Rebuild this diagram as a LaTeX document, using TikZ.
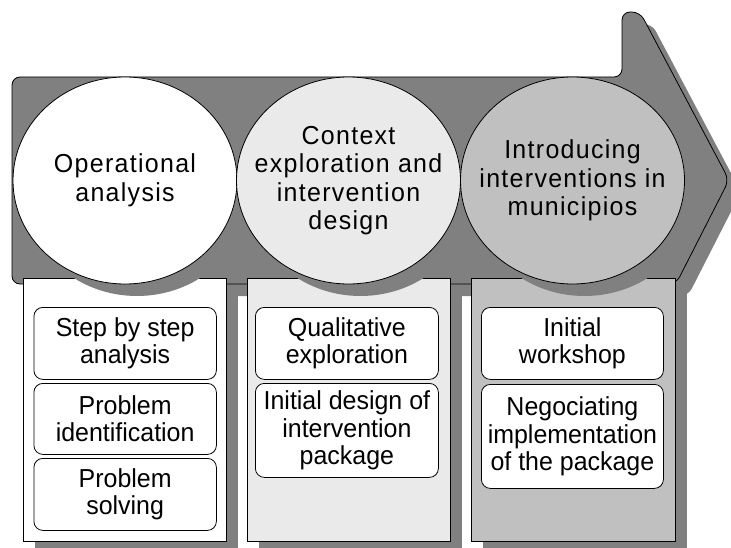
\documentclass[tikz,border=0pt]{standalone}
\usepackage{fontspec}
\setmainfont{Liberation Sans}[FakeStretch=0.96]
\newfontfamily\circfont[LetterSpace=5,FakeStretch=0.96]{Liberation Sans}
\usetikzlibrary{shapes.geometric,shadows}
\definecolor{arrowgray}{HTML}{808080}
\definecolor{lightfill}{HTML}{EAEAEA}
\definecolor{midfill}{HTML}{C0C0C0}
\begin{document}
\begin{tikzpicture}[x=1pt,y=-1pt,
  outl/.style={draw=black, line width=0.8pt},
  shad/.style={drop shadow={shadow xshift=12pt, shadow yshift=-12pt, opacity=1, fill=arrowgray}},
  phase/.style={ellipse, outl, shad, minimum width=224pt, minimum height=207pt, inner sep=0pt},
  phasetext/.style={align=center, inner sep=0pt, font=\circfont\fontsize{26}{28.5}\selectfont},
  panel/.style={rectangle, outl, shad, minimum height=263pt, inner sep=0pt, anchor=north west},
  task/.style={rectangle, rounded corners=9pt, outl, fill=white, align=center,
    font=\fontsize{26}{27.5}\selectfont, inner sep=0pt, anchor=north west}]
\clip (0,0) rectangle (731,548);
% arrow shadow and arrow
\fill[arrowgray, shift={(12,12)}, rounded corners=8]
  (12,284) -- (12,77) -- (622,77) -- (622,12) -- (640,12) -- (729,180) -- (676,284) -- cycle;
\filldraw[fill=arrowgray, draw=black, line width=0.8pt, rounded corners=8]
  (12,284) -- (12,77) -- (622,77) -- (622,12) -- (640,12) -- (729,180) -- (676,284) -- cycle;
% panels
\node[panel, fill=white, minimum width=203pt] (p1) at (23,278) {};
\node[panel, fill=lightfill, minimum width=203pt] (p2) at (247,278) {};
\node[panel, fill=midfill, minimum width=204pt] (p3) at (471,278) {};
% phase ellipses
\node[phase, fill=white] (e1) at (125,180.5) {};
\node[phase, fill=lightfill] (e2) at (348.5,180.5) {};
\node[phase, fill=midfill] (e3) at (572.5,180.5) {};
\node[phasetext] (e1t) at (e1.center) {Operational\\analysis};
\node[phasetext] (e2t) at (e2.center) {Context\\exploration and\\intervention\\design};
\node[phasetext] (e3t) at (e3.center) {Introducing\\interventions in\\municipios};
% task boxes
\node[task, minimum width=182.5pt, minimum height=72pt] (b11) at (33.5,307) {Step by step\\analysis};
\node[task, minimum width=182.5pt, minimum height=71pt] (b12) at (33.5,383) {Problem\\identification};
\node[task, minimum width=182.5pt, minimum height=72pt] (b13) at (33.5,458) {Problem\\solving};
\node[task, minimum width=183pt, minimum height=72pt] (b21) at (255,307) {Qualitative\\exploration};
\node[task, minimum width=183pt, minimum height=94pt] (b22) at (255,383) {Initial design of\\intervention\\package};
\node[task, minimum width=182pt, minimum height=72pt] (b31) at (481,307) {Initial\\workshop};
\node[task, minimum width=182pt, minimum height=104pt] (b32) at (481,384) {Negociating\\implementation\\of the package};
\end{tikzpicture}
\end{document}
